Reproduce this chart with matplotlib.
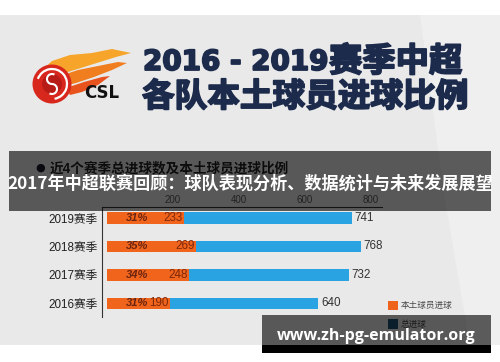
import numpy as np
import matplotlib
matplotlib.use("Agg")
import matplotlib.pyplot as plt
import matplotlib.patheffects as pe
from matplotlib.patches import Rectangle, Circle, Polygon, Arc

# data
seasons = ["2016赛季", "2017赛季", "2018赛季", "2019赛季"]
native_goals = [190, 248, 269, 233]
total_goals = [640, 732, 768, 741]
native_pct = ["31%", "34%", "35%", "31%"]
x_ticks = [200, 400, 600, 800]

plt.rcParams["font.family"] = ["Liberation Sans", "Noto Sans CJK SC"]

W, H = 500, 362
fig = plt.figure(figsize=(5, 3.62), dpi=100)


def px_axes(x0, y0, x1, y1, z):
    a = fig.add_axes([x0 / W, 1 - y1 / H, (x1 - x0) / W, (y1 - y0) / H], zorder=z)
    a.patch.set_alpha(0)
    return a


# background layer (pixel coords, y down)
bg = px_axes(0, 0, W, H, 0)
bg.set_xlim(0, W)
bg.set_ylim(H, 0)
bg.axis("off")
bg.add_patch(Rectangle((0, 15), W, 330, fc="#e9e9e9", ec="none"))
bg.add_patch(Polygon([(420, 15), (500, 15), (500, 345), (470, 345), (445, 200)],
                     closed=True, fc="#efefef", ec="none"))

# CSL logo, rough
flames = [
    ([(42, 70), (52, 61), (70, 55), (92, 53), (112, 49), (131, 53), (116, 57),
      (100, 62), (84, 67), (68, 72), (56, 77)], "#f6a52a"),
    ([(60, 76), (78, 70), (98, 66), (118, 62), (127, 63), (112, 70), (94, 77),
      (76, 83), (64, 86)], "#f07d1e"),
    ([(66, 88), (84, 82), (102, 77), (110, 76), (98, 85), (82, 92), (70, 95)], "#e8521c"),
]
for pts, c in flames:
    bg.add_patch(Polygon(pts, closed=True, fc=c, ec="none"))
bg.add_patch(Circle((52, 84), 19.5, fc="#d8281e", ec="none"))
bg.add_patch(Arc((52, 84), 30, 30, theta1=200, theta2=80, color="white", lw=1.6))
bg.add_patch(Circle((52, 84), 10, fc="#b81c16", ec="none"))
bg.add_patch(Arc((52, 79), 10, 10, theta1=90, theta2=300, color="white", lw=1.5))
bg.add_patch(Arc((52, 89), 10, 10, theta1=270, theta2=120, color="white", lw=1.5))
bg.text(84, 93, "CSL", fontsize=12, fontweight="bold", family="DejaVu Sans",
        color="#111111", ha="left", va="center")

# title
navy = "#1c2b4c"
thick = [pe.withStroke(linewidth=1.3, foreground=navy)]
bg.text(143, 62, "2016 - 2019", fontsize=20, fontweight="bold", family="DejaVu Sans",
        color=navy, ha="left", va="center", path_effects=thick)
bg.text(329, 62, "赛季中超", fontsize=24, fontweight="heavy", family="Noto Sans CJK SC",
        color=navy, ha="left", va="center", path_effects=thick)
bg.text(142, 97, "各队本土球员进球比例", fontsize=23.5, fontweight="heavy",
        family="Noto Sans CJK SC", color=navy, ha="left", va="center", path_effects=thick)

# subtitle (sits under the grey banner)
bg.text(40, 168, "●", fontsize=8, color="#1a1a2a", ha="center", va="center",
        family="DejaVu Sans")
bg.text(50, 168, "近4个赛季总进球数及本土球员进球比例", fontsize=9.8, fontweight="bold",
        color="#222222", ha="left", va="center")

# legend
bg.add_patch(Rectangle((388, 300.5), 10, 9.5, fc="#ee621c", ec="none"))
bg.text(401, 305.5, "本土球员进球", fontsize=6.2, color="#444444", ha="left", va="center")
bg.add_patch(Rectangle((388, 319), 10, 9.5, fc="#1d4f72", ec="none"))
bg.text(401, 324, "总进球", fontsize=6.2, color="#444444", ha="left", va="center")

# bar chart
ax = px_axes(102, 207, 382, 317, 1)
y = np.arange(len(seasons))
ax.barh(y, total_goals, height=0.42, color="#29a3e1")
ax.barh(y, native_goals, height=0.42, color="#f0641c")
ax.set_xlim(-15, 833)
ax.set_ylim(-0.474, 3.386)
ax.xaxis.tick_top()
ax.set_xticks(x_ticks)
ax.set_yticks(y, seasons)
ax.tick_params(axis="x", length=0, labelsize=7, colors="#555555", pad=1.5)
ax.tick_params(axis="y", length=0, labelsize=8.4, colors="#222222", pad=3.5)
for s in ["bottom", "right"]:
    ax.spines[s].set_visible(False)
for s in ["top", "left"]:
    ax.spines[s].set_color("#333333")
    ax.spines[s].set_linewidth(0.8)

for i in range(len(seasons)):
    ax.annotate(str(total_goals[i]), (total_goals[i], y[i]), xytext=(2, 0),
                textcoords="offset points", ha="left", va="center",
                fontsize=8.4, color="#333333")
    ax.annotate(str(native_goals[i]), (native_goals[i], y[i]), xytext=(-1, 0),
                textcoords="offset points", ha="right", va="center",
                fontsize=8.4, color="#7e280a")
    ax.text(92, y[i], native_pct[i], ha="center", va="center", fontsize=8,
            fontstyle="italic", fontweight="bold", color="#6b2410")

# overlays: banner and watermark
fg = px_axes(0, 0, W, H, 3)
fg.set_xlim(0, W)
fg.set_ylim(H, 0)
fg.axis("off")
fg.add_patch(Rectangle((9, 151), 482, 60, fc="black", alpha=0.62, ec="none"))
fg.text(250, 184, "2017年中超联赛回顾：球队表现分析、数据统计与未来发展展望",
        fontsize=12.3, fontweight="bold", family="Noto Sans CJK SC",
        color="white", ha="center", va="center")
fg.add_patch(Rectangle((262, 315), 229, 30, fc="black", alpha=0.62, ec="none"))
fg.add_patch(Rectangle((262, 345), 229, 8, fc="black", ec="none"))
fg.text(376, 336, "www.zh-pg-emulator.org", fontsize=11.5, fontweight="bold",
        family="Open Sans", color="white", ha="center", va="center")

fig.savefig("out.png", dpi=100)
